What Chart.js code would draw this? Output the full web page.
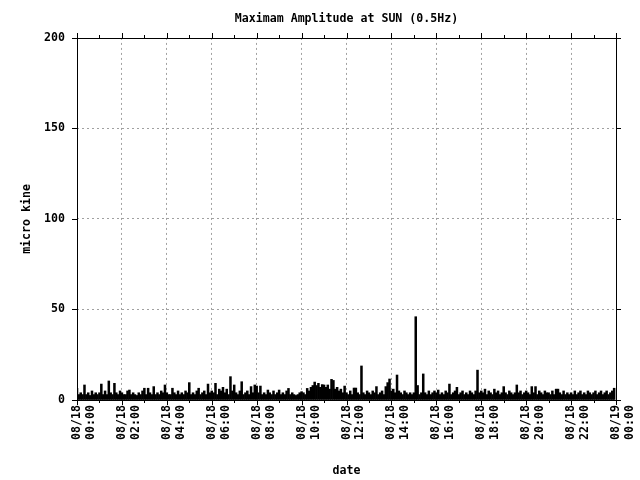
<!DOCTYPE html>
<html>
<head>
<meta charset="utf-8">
<title>Maximam Amplitude at SUN</title>
<script src="https://cdn.jsdelivr.net/npm/chart.js@4.4.1/dist/chart.umd.min.js"></script>
<style>
  html, body { margin: 0; padding: 0; background: #fff; }
  #wrap { width: 640px; height: 480px; }
</style>
</head>
<body>
<div id="wrap"><canvas id="Chart" width="640" height="480"></canvas></div>
<script>
"use strict";

// samples every 5 minutes from 08/18 00:00, one row per hour
var stepMin = 5;
var amplitude = [
  6.5, 3, 4, 3, 8.3, 3, 4, 2.5, 5, 3, 4, 3,          // 00
  4, 8.8, 3, 5, 3, 10.5, 4, 3, 9.2, 4, 3, 5,         // 01
  4, 3, 3, 5, 5.5, 3, 4, 3, 2.5, 4, 3, 5,            // 02
  6.5, 3, 6.5, 4, 3, 7.4, 3, 4, 3, 5, 4, 8.3,        // 03
  4, 3, 3, 6.5, 4, 3, 5, 3, 4, 3, 5, 4,              // 04
  9.6, 3, 4, 3, 5, 6.5, 3, 4, 5, 3, 8.8, 4,          // 05
  5, 4, 9.2, 3, 6, 5, 7, 4, 6, 3, 12.9, 5,           // 06
  8.3, 4, 3, 5, 10.1, 3, 4, 5, 3, 7.4, 4, 8.3,       // 07
  7.7, 4, 7.7, 3, 4, 3, 5.5, 4, 3, 5, 3, 4,          // 08
  5.5, 3, 4, 3, 5, 6.4, 3, 4, 3, 2.5, 3, 4,          // 09
  4.6, 4, 3, 6.4, 5, 7, 8, 9.9, 8, 9.2, 7, 8.5,      // 10
  8.3, 7, 8.3, 6, 11.4, 10.8, 6, 7, 5, 6, 4, 7.7,    // 11
  4, 3, 5, 3, 6.6, 6.6, 4, 3, 18.8, 4, 3, 5,         // 12
  4, 3, 5, 4, 7.4, 3, 4, 5, 3, 7.4, 9.6, 11.6,       // 13
  5, 6, 4, 13.8, 5, 4, 3, 5, 4, 3, 4, 3,             // 14
  4, 46, 8, 3, 4, 14.4, 4, 3, 5, 3, 4, 5,            // 15
  4, 5.5, 3, 4, 3, 5, 4, 8.8, 3, 4, 5, 7,            // 16
  3, 4, 5, 3, 4, 3, 5, 4, 3, 5, 16.5, 4,             // 17
  5, 4, 6, 3, 5, 4, 3, 6, 4, 5, 3, 4,                // 18
  7.4, 4, 3, 5, 4, 3, 4, 8.3, 4, 5, 3, 4,            // 19
  5, 4, 3, 7.4, 4, 7.4, 3, 5, 4, 3, 5, 4,            // 20
  4, 3, 5, 3, 6, 6, 4, 3, 5, 3, 4, 3,                // 21
  4, 3, 5, 3, 4, 5, 3, 4, 3, 5, 4, 3,                // 22
  4, 5, 3, 4, 5, 3, 4, 5, 3, 4, 5, 6.5               // 23
];
var yTicks = [0, 50, 100, 150, 200];
var xHours = [0, 2, 4, 6, 8, 10, 12, 14, 16, 18, 20, 22, 24];

var FONT = { family: "'DejaVu Sans Mono', monospace", size: 11.6, weight: 'bold' };

function pad2(n) {
  return (n < 10 ? '0' : '') + n;
}

var points = amplitude.map(function (v, i) {
  return { x: i * stepMin / 60, y: v };
});

// gnuplot style frame with outward tics
var framePlugin = {
  id: 'frame',
  afterDatasetsDraw: function (chart) {
    var c = chart.ctx, a = chart.chartArea;
    var xs = chart.scales.x, ys = chart.scales.y;
    c.save();
    c.strokeStyle = '#000';
    c.lineWidth = 1;
    c.strokeRect(Math.round(a.left) + 0.5, Math.round(a.top) + 0.5,
      Math.round(a.right - a.left), Math.round(a.bottom - a.top));
    c.beginPath();
    for (var h = 0; h <= 24; h++) {
      var px = Math.round(xs.getPixelForValue(h)) + 0.5;
      var len = h % 2 === 0 ? 5 : 3;
      c.moveTo(px, Math.round(a.bottom));
      c.lineTo(px, Math.round(a.bottom) + len);
      c.moveTo(px, Math.round(a.top));
      c.lineTo(px, Math.round(a.top) - len);
    }
    yTicks.forEach(function (v) {
      var py = Math.round(ys.getPixelForValue(v)) + 0.5;
      c.moveTo(Math.round(a.left), py);
      c.lineTo(Math.round(a.left) - 5, py);
      c.moveTo(Math.round(a.right), py);
      c.lineTo(Math.round(a.right) + 5, py);
    });
    c.stroke();
    c.restore();
  }
};

function gridColor(ctx) {
  if (!ctx.tick) return 'rgba(0,0,0,0)';
  if (ctx.index === 0 || ctx.index === ctx.scale.ticks.length - 1) return 'rgba(0,0,0,0)';
  return '#a0a0a0';
}

var ctx = document.getElementById('Chart').getContext('2d');
var chart = new Chart(ctx, {
  type: 'bar',
  data: {
    datasets: [{
      data: points,
      backgroundColor: '#000',
      borderWidth: 0,
      categoryPercentage: 1,
      barPercentage: 1
    }]
  },
  options: {
    responsive: false,
    animation: false,
    devicePixelRatio: 1,
    layout: { padding: { left: 0, right: 24, top: 0, bottom: 0 } },
    plugins: {
      legend: { display: false },
      tooltip: { enabled: false },
      title: {
        display: true,
        text: 'Maximam Amplitude at SUN (0.5Hz)',
        color: '#000',
        font: FONT,
        fullSize: false,
        padding: { top: 12, bottom: 12 }
      }
    },
    scales: {
      x: {
        type: 'linear',
        min: 0,
        max: 24,
        offset: false,
        afterBuildTicks: function (s) {
          s.ticks = xHours.map(function (h) { return { value: h }; });
        },
        afterFit: function (s) {
          s.height = 80;
          s.paddingLeft = 0;
          s.paddingRight = 0;
        },
        grid: { color: gridColor, drawTicks: false, offset: false },
        border: { display: false, dash: [2, 3] },
        ticks: {
          color: '#000',
          font: FONT,
          padding: 5,
          minRotation: 90,
          maxRotation: 90,
          autoSkip: false,
          callback: function (v) {
            return v === 24 ? ['08/19', '00:00'] : ['08/18', pad2(v) + ':00'];
          }
        },
        title: {
          display: true,
          text: 'date',
          color: '#000',
          font: FONT,
          padding: { top: 0, bottom: 2 }
        }
      },
      y: {
        min: 0,
        max: 200,
        afterBuildTicks: function (s) {
          s.ticks = yTicks.map(function (v) { return { value: v }; });
        },
        afterFit: function (s) {
          s.width = 77;
          s.paddingTop = 0;
          s.paddingBottom = 0;
        },
        grid: { color: gridColor, drawTicks: false },
        border: { display: false, dash: [2, 3] },
        ticks: { color: '#000', font: FONT, padding: 12 },
        title: {
          display: true,
          text: 'micro kine',
          color: '#000',
          font: FONT,
          padding: { top: 20, bottom: 0 }
        }
      }
    }
  },
  plugins: [framePlugin]
});
</script>
</body>
</html>
